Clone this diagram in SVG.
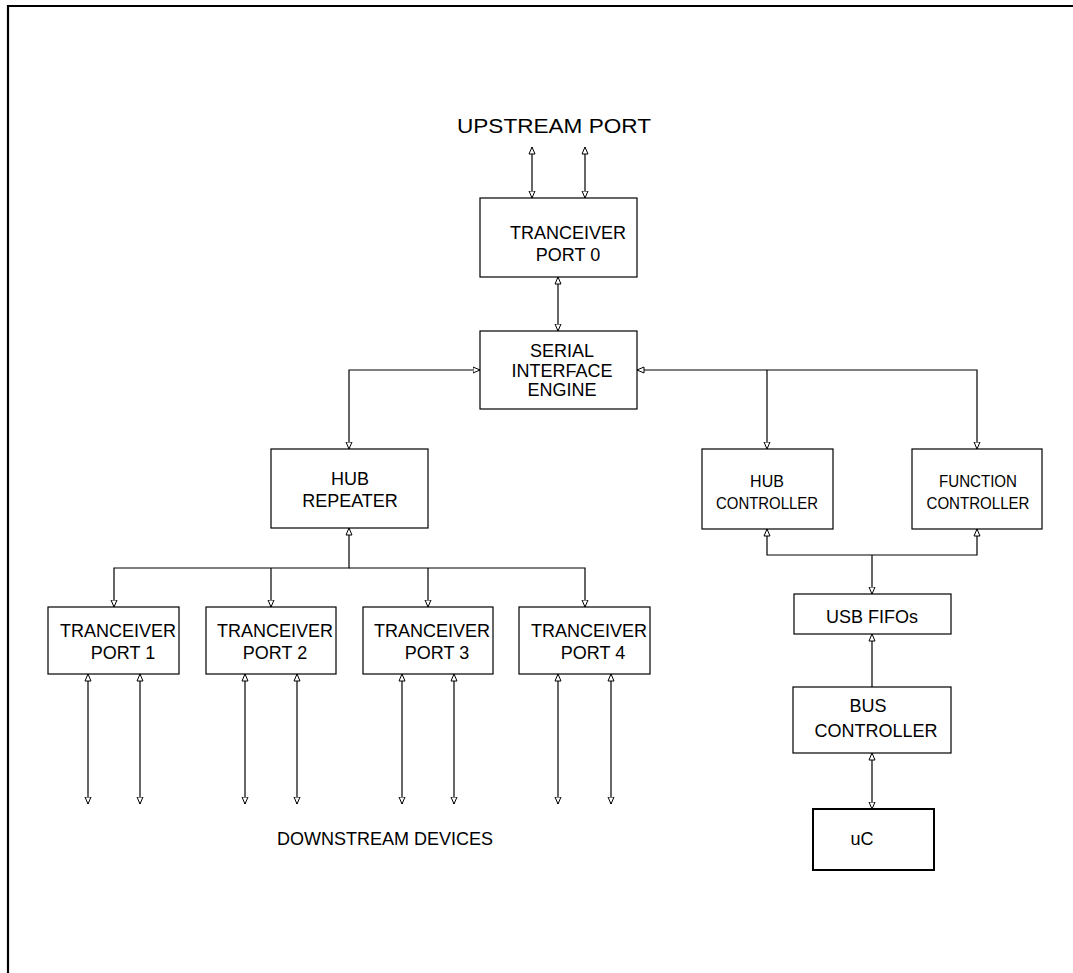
<svg xmlns="http://www.w3.org/2000/svg" width="1073" height="973" viewBox="0 0 1073 973">
<defs>
<marker id="ah" viewBox="0 0 8 8" refX="7.5" refY="4" markerWidth="8" markerHeight="8" markerUnits="userSpaceOnUse" orient="auto-start-reverse">
<path d="M0.5,1 L7.5,4 L0.5,7 Z" fill="#fff" stroke="#000" stroke-width="1"/>
</marker>
<style>
.box{fill:#fff;stroke:#000;stroke-width:1.2}
.t{font-family:"Liberation Sans",Arial,sans-serif;font-size:18px;fill:#000}
.c{stroke:#000;stroke-width:1.2;fill:none}
.a2{marker-start:url(#ah);marker-end:url(#ah)}
.ae{marker-end:url(#ah)}
</style>
</defs>
<rect width="1073" height="973" fill="#fff"/>
<path d="M8,973 L8,6 L1073,6" fill="none" stroke="#000" stroke-width="2.2"/>

<text class="t" x="554" y="133" text-anchor="middle" style="font-size:20px" textLength="194" lengthAdjust="spacingAndGlyphs">UPSTREAM PORT</text>

<g id="connectors">
<line class="c a2" x1="532" y1="147" x2="532" y2="198"/>
<line class="c a2" x1="585" y1="147" x2="585" y2="198"/>
<line class="c a2" x1="558" y1="277" x2="558" y2="331"/>
<polyline class="c a2" points="480,370 349,370 349,449"/>
<polyline class="c ae" points="767,370 767,449"/>
<polyline class="c a2" points="637,370 977,370 977,449"/>
<polyline class="c a2" points="349,528 349,568 114,568 114,607"/>
<polyline class="c ae" points="271,568 271,607"/>
<polyline class="c ae" points="428,568 428,607"/>
<polyline class="c ae" points="349,568 585,568 585,607"/>
<line class="c a2" x1="88" y1="674" x2="88" y2="804"/>
<line class="c a2" x1="140" y1="674" x2="140" y2="804"/>
<line class="c a2" x1="245" y1="674" x2="245" y2="804"/>
<line class="c a2" x1="297" y1="674" x2="297" y2="804"/>
<line class="c a2" x1="402" y1="674" x2="402" y2="804"/>
<line class="c a2" x1="454" y1="674" x2="454" y2="804"/>
<line class="c a2" x1="558" y1="674" x2="558" y2="804"/>
<line class="c a2" x1="611" y1="674" x2="611" y2="804"/>
<polyline class="c a2" points="767,529 767,555 977,555 977,529"/>
<line class="c ae" x1="872" y1="555" x2="872" y2="594"/>
<line class="c ae" x1="872" y1="688" x2="872" y2="634"/>
<line class="c a2" x1="872" y1="753" x2="872" y2="809"/>
</g>

<g id="tp0">
<rect class="box" x="480" y="198" width="157" height="79"/>
<text class="t" x="568" y="239" text-anchor="middle">TRANCEIVER</text>
<text class="t" x="568" y="261" text-anchor="middle">PORT 0</text>
</g>
<g id="sie">
<rect class="box" x="480" y="331" width="157" height="78"/>
<text class="t" x="562" y="357" text-anchor="middle">SERIAL</text>
<text class="t" x="562" y="377" text-anchor="middle">INTERFACE</text>
<text class="t" x="562" y="396" text-anchor="middle">ENGINE</text>
</g>
<g id="hubrep">
<rect class="box" x="271" y="449" width="157" height="79"/>
<text class="t" x="350" y="485" text-anchor="middle">HUB</text>
<text class="t" x="350" y="507" text-anchor="middle">REPEATER</text>
</g>
<g id="hubctrl">
<rect class="box" x="702" y="449" width="131" height="80"/>
<text class="t" x="767" y="487" text-anchor="middle" style="font-size:16px">HUB</text>
<text class="t" x="767" y="509" text-anchor="middle" style="font-size:16px" textLength="102" lengthAdjust="spacingAndGlyphs">CONTROLLER</text>
</g>
<g id="funcctrl">
<rect class="box" x="912" y="449" width="130" height="80"/>
<text class="t" x="978" y="487" text-anchor="middle" style="font-size:16px" textLength="78" lengthAdjust="spacingAndGlyphs">FUNCTION</text>
<text class="t" x="978" y="509" text-anchor="middle" style="font-size:16px" textLength="103" lengthAdjust="spacingAndGlyphs">CONTROLLER</text>
</g>
<g id="tp1">
<rect class="box" x="48" y="607" width="131" height="67"/>
<text class="t" x="118" y="637" text-anchor="middle">TRANCEIVER</text>
<text class="t" x="123" y="659" text-anchor="middle">PORT 1</text>
</g>
<g id="tp2">
<rect class="box" x="206" y="607" width="130" height="67"/>
<text class="t" x="275" y="637" text-anchor="middle">TRANCEIVER</text>
<text class="t" x="275" y="659" text-anchor="middle">PORT 2</text>
</g>
<g id="tp3">
<rect class="box" x="363" y="607" width="130" height="67"/>
<text class="t" x="432" y="637" text-anchor="middle">TRANCEIVER</text>
<text class="t" x="437" y="659" text-anchor="middle">PORT 3</text>
</g>
<g id="tp4">
<rect class="box" x="519" y="607" width="131" height="67"/>
<text class="t" x="589" y="637" text-anchor="middle">TRANCEIVER</text>
<text class="t" x="593" y="659" text-anchor="middle">PORT 4</text>
</g>
<g id="fifo">
<rect class="box" x="794" y="594" width="157" height="40"/>
<text class="t" x="872" y="623" text-anchor="middle">USB FIFOs</text>
</g>
<g id="busctrl">
<rect class="box" x="793" y="687" width="158" height="66"/>
<text class="t" x="868" y="712" text-anchor="middle">BUS</text>
<text class="t" x="876" y="737" text-anchor="middle">CONTROLLER</text>
</g>
<g id="uc">
<rect x="813" y="809" width="121" height="61" fill="#fff" stroke="#000" stroke-width="2"/>
<text class="t" x="862" y="845" text-anchor="middle">uC</text>
</g>
<text class="t" x="385" y="845" text-anchor="middle">DOWNSTREAM DEVICES</text>
</svg>
